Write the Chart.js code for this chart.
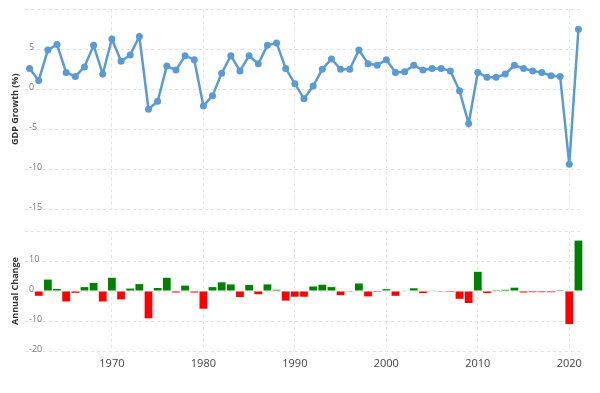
<!DOCTYPE html>
<html>
<head>
<meta charset="utf-8">
<script src="https://cdn.jsdelivr.net/npm/chart.js@4.4.0/dist/chart.umd.min.js"></script>
<style>
  html, body { margin: 0; padding: 0; background: #fff; }
  #top { position: absolute; left: 0; top: 0; width: 600px; height: 220px; }
  #bottom { position: absolute; left: 0; top: 220px; width: 600px; height: 173px; }
</style>
</head>
<body>
<div id="top"><canvas id="c1"></canvas></div>
<div id="bottom"><canvas id="c2"></canvas></div>
<script>
const years = [1961,1962,1963,1964,1965,1966,1967,1968,1969,1970,
  1971,1972,1973,1974,1975,1976,1977,1978,1979,1980,
  1981,1982,1983,1984,1985,1986,1987,1988,1989,1990,
  1991,1992,1993,1994,1995,1996,1997,1998,1999,2000,
  2001,2002,2003,2004,2005,2006,2007,2008,2009,2010,
  2011,2012,2013,2014,2015,2016,2017,2018,2019,2020,2021];

const gdpGrowth = [2.6,1.1,4.9,5.6,2.1,1.6,2.8,5.5,1.9,6.3,
  3.5,4.3,6.6,-2.5,-1.5,2.9,2.4,4.2,3.7,-2.1,
  -0.8,2.0,4.2,2.3,4.2,3.2,5.5,5.8,2.6,0.7,
  -1.2,0.4,2.5,3.8,2.5,2.5,4.9,3.2,3.0,3.7,
  2.1,2.2,3.0,2.4,2.6,2.6,2.3,-0.2,-4.3,2.1,
  1.5,1.5,1.9,3.0,2.6,2.3,2.1,1.7,1.6,-9.4,7.5];

const annualChange = [null,-1.6,3.8,0.7,-3.5,-0.6,1.3,2.7,-3.5,4.4,
  -2.8,0.8,2.3,-9.1,1.0,4.4,-0.5,1.8,-0.5,-5.9,
  1.3,2.9,2.2,-2.0,2.0,-1.1,2.2,0.4,-3.2,-1.9,
  -1.9,1.5,2.1,1.3,-1.4,-0.1,2.5,-1.8,-0.3,0.6,
  -1.6,0.2,0.9,-0.7,0.2,-0.1,-0.3,-2.6,-4.0,6.4,
  -0.7,0.05,0.4,1.1,-0.5,-0.4,-0.4,-0.4,0.05,-11.0,16.8];

const decadeTicks = [1970,1980,1990,2000,2010,2020];
const gdpTicks = [10,5,0,-5,-10,-15];
const changeTicks = [20,10,0,-10,-20];

const GRID = '#e3e3e3';
const LINE = '#5b9bd5';

function xAxis(showLabels) {
  return {
    type: 'linear',
    min: 1960.5,
    max: 2021.5,
    offset: false,
    afterBuildTicks: s => { s.ticks = decadeTicks.map(v => ({value: v})); },
    afterFit: s => { s.height = showLabels ? 20 : 0; },
    grid: { color: GRID, drawTicks: false, lineWidth: 1, offset: false },
    border: { display: false, dash: [3, 3] },
    ticks: {
      display: showLabels,
      padding: 6,
      color: '#444',
      font: { family: 'Open Sans', size: 11 },
      maxRotation: 0,
      autoSkip: false,
      callback: v => String(v)
    }
  };
}

function yAxis(tickVals, title) {
  const top = tickVals[0];
  return {
    min: tickVals[tickVals.length - 1],
    max: top,
    afterBuildTicks: s => { s.ticks = tickVals.map(v => ({value: v})); },
    afterFit: s => { s.width = 25; },
    grid: { color: GRID, drawTicks: false, lineWidth: 1 },
    border: { display: false, dash: [3, 3] },
    ticks: {
      mirror: true,
      padding: 4,
      labelOffset: -2,
      color: '#777',
      font: { family: 'Open Sans', size: 9 },
      callback: v => (v === top ? '' : String(v))
    },
    title: {
      display: true,
      text: title,
      color: '#333',
      font: { family: 'Open Sans', size: 9, weight: 'bold' },
      padding: { top: 10, bottom: 0 }
    }
  };
}

new Chart(document.getElementById('c1'), {
  type: 'line',
  data: {
    datasets: [{
      data: years.map((y, i) => ({x: y, y: gdpGrowth[i]})),
      borderColor: LINE,
      backgroundColor: LINE,
      borderWidth: 2.5,
      pointRadius: 3.5,
      pointBackgroundColor: LINE,
      pointBorderColor: LINE,
      pointBorderWidth: 0,
      tension: 0,
      fill: false
    }]
  },
  options: {
    responsive: true,
    maintainAspectRatio: false,
    animation: false,
    layout: { padding: { top: 9, bottom: 11, left: 0, right: 17 } },
    plugins: { legend: { display: false }, tooltip: { enabled: false } },
    scales: {
      x: xAxis(false),
      y: yAxis(gdpTicks, 'GDP Growth (%)')
    }
  }
});

new Chart(document.getElementById('c2'), {
  type: 'bar',
  data: {
    datasets: [{
      data: years.map((y, i) => ({x: y, y: annualChange[i]})),
      backgroundColor: annualChange.map(v => (v !== null && v < 0 ? '#ff0000' : '#008000')),
      borderWidth: 0,
      barPercentage: 0.85,
      categoryPercentage: 1.0
    }]
  },
  options: {
    responsive: true,
    maintainAspectRatio: false,
    animation: false,
    layout: { padding: { top: 11, bottom: 22, left: 0, right: 17 } },
    plugins: { legend: { display: false }, tooltip: { enabled: false } },
    scales: {
      x: xAxis(true),
      y: yAxis(changeTicks, 'Annual Change')
    }
  }
});
</script>
</body>
</html>
